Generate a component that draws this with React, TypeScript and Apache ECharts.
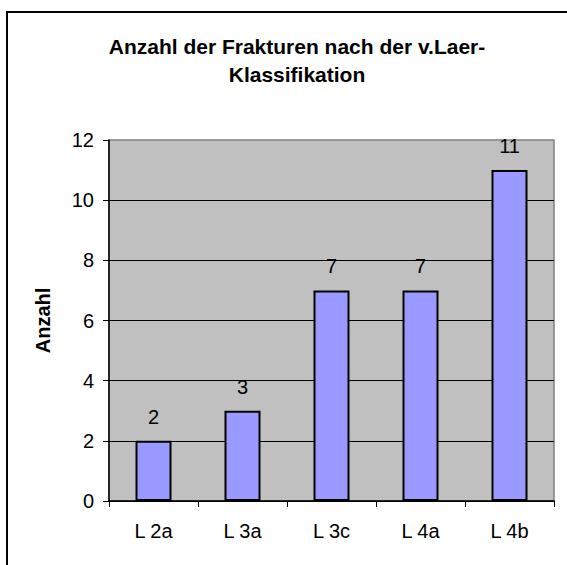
import React, { useEffect, useRef } from "react";
import * as echarts from "echarts";

const categories = ["L 2a", "L 3a", "L 3c", "L 4a", "L 4b"];
const counts = [2, 3, 7, 7, 11];
const titleLines = ["Anzahl der Frakturen nach der v.Laer-", "Klassifikation"];
const yAxisName = "Anzahl";

const FONT = "Arial, 'Liberation Sans', sans-serif";

export default function App() {
  const ref = useRef<HTMLDivElement>(null);
  useEffect(() => {
    if (!ref.current) return;
    const chart = echarts.init(ref.current, undefined, { renderer: "svg" });
    chart.setOption({
      animation: false,
      backgroundColor: "#ffffff",
      title: {
        text: titleLines.join("\n"),
        left: 292,
        top: 27,
        textAlign: "center",
        textStyle: {
          fontFamily: FONT,
          fontSize: 21,
          fontWeight: "bold",
          color: "#000",
          lineHeight: 28,
        },
      },
      graphic: [
        {
          type: "rect",
          shape: { x: 7, y: 12, width: 700, height: 700 },
          style: { fill: "none", stroke: "#000", lineWidth: 2 },
          silent: true,
          z: 100,
        },
      ],
      grid: {
        left: 109,
        right: 13,
        top: 140,
        bottom: 64,
        show: true,
        backgroundColor: "#C0C0C0",
        borderColor: "#808080",
        borderWidth: 1.5,
      },
      xAxis: {
        type: "category",
        data: categories,
        axisLine: { show: true, lineStyle: { color: "#000", width: 1.5 } },
        axisTick: { show: true, length: 6, alignWithLabel: false, lineStyle: { color: "#000" } },
        axisLabel: { fontFamily: FONT, fontSize: 20, color: "#000", margin: 20 },
        splitLine: { show: false },
      },
      yAxis: {
        type: "value",
        min: 0,
        max: 12,
        interval: 2,
        name: yAxisName,
        nameLocation: "middle",
        nameRotate: 90,
        nameGap: 56,
        nameTextStyle: { fontFamily: FONT, fontSize: 20, fontWeight: "bold", color: "#000" },
        axisLine: { show: true, lineStyle: { color: "#000", width: 1.5 } },
        axisTick: { show: true, length: 6, lineStyle: { color: "#000" } },
        axisLabel: { fontFamily: FONT, fontSize: 20, color: "#000", margin: 15 },
        splitLine: { show: true, showMaxLine: false, lineStyle: { color: "#000", width: 1 } },
      },
      series: [
        {
          type: "bar",
          data: counts,
          barWidth: 36,
          itemStyle: { color: "#9999FF", borderColor: "#000", borderWidth: 2 },
          label: {
            show: true,
            position: "top",
            distance: 14,
            fontFamily: FONT,
            fontSize: 20,
            color: "#000",
          },
        },
      ],
    });
    return () => chart.dispose();
  }, []);
  return (
    <div
      ref={ref}
      style={{ position: "absolute", left: 0, top: 0, width: 567, height: 565 }}
    />
  );
}
